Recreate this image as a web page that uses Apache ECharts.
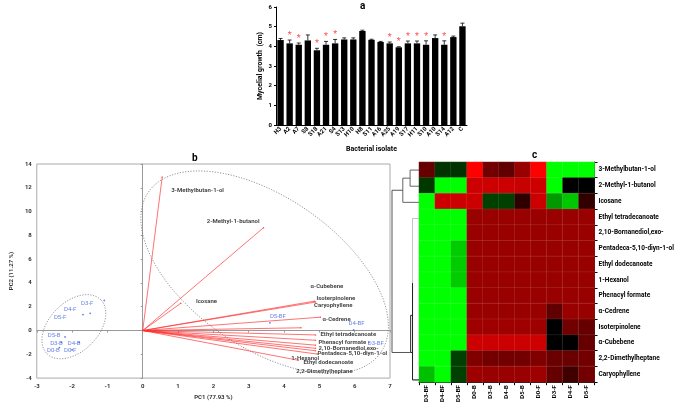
<!DOCTYPE html>
<html><head><meta charset="utf-8">
<script src="https://cdn.jsdelivr.net/npm/echarts@6/dist/echarts.min.js"></script>
<style>html,body{margin:0;padding:0;background:#fff}#c{width:677px;height:405px}</style>
</head><body><div id="c"></div>
<script>
// ---- (a) bar chart data ----
const isolates = ['H3','A2','A7','S8','S18','A21','S4','S13','H10','H8','S11','A16','A25','A19','S17','H11','S10','A10','S14','A12','C'];
const growth = [4.32,4.15,4.08,4.3,3.8,4.08,4.15,4.35,4.35,4.78,4.33,4.22,4.15,3.95,4.15,4.15,4.08,4.42,4.08,4.47,5.02];
const growthErr = [0.08,0.17,0.09,0.28,0.1,0.17,0.2,0.08,0.08,0.04,0.03,0.03,0.07,0.03,0.12,0.12,0.2,0.16,0.2,0.05,0.16];
const significant = [0,1,1,0,1,1,1,0,0,0,0,0,1,1,1,1,1,0,1,0,0];

// ---- (b) PCA biplot data ----
const samples = ['D3-F','D4-F','D5-F','D5-B','D3-B','D4-B','D0-B','D0-F','D5-BF','D4-BF','D3-BF'];
const samplePC1 = [-1.09,-1.49,-1.69,-2.2,-2.3,-1.8,-2.36,-2.0,3.6,5.97,6.4];
const samplePC2 = [2.53,1.45,1.34,-0.54,-1.0,-1.0,-1.43,-1.6,0.65,0.05,-1.0];
const variables = ['3-Methylbutan-1-ol','2-Methyl-1-butanol','Icosane','Ethyl tetradecanoate','2,10-Bornanediol,exo-','Pentadeca-5,10-diyn-1-ol','Ethyl dodecanoate','1-Hexanol','Phenacyl formate','α-Cedrene','Isoterpinolene','α-Cubebene','2,2-Dimethylheptane','Caryophyllene'];
const loadPC1 = [0.55,3.42,1.08,4.89,4.89,4.89,4.89,4.4,4.89,5.03,4.89,4.86,4.94,4.48];
const loadPC2 = [12.9,8.65,2.3,-0.37,-1.23,-1.5,-1.7,-2.5,-0.82,1.12,2.39,2.47,-1.98,0.23];
// confidence ellipses: centre, two conjugate semi-axis vectors (data units)
const ellipses = [
  [3.45,4.9,3.3,-6.7,-1.18,-5.26],
  [-1.95,0.32,0.776,2.22,0.465,-1.53]
];

// ---- (c) heatmap data ----
const treatments = ['D3-BF','D4-BF','D5-BF','D0-B','D3-B','D4-B','D5-B','D0-F','D3-F','D4-F','D5-F'];
const compounds = ['3-Methylbutan-1-ol','2-Methyl-1-butanol','Icosane','Ethyl tetradecanoate','2,10-Bornanediol,exo-','Pentadeca-5,10-diyn-1-ol','Ethyl dodecanoate','1-Hexanol','Phenacyl formate','α-Cedrene','Isoterpinolene','α-Cubebene','2,2-Dimethylheptane','Caryophyllene'];
const heat = [
  [0.4,-0.2,-0.2,1.0,0.45,0.38,0.6,1.0,-1,-1,-1],
  [-0.22,-1,-1,0.8,0.8,0.8,0.78,0.8,-1,0,0],
  [-1,0.8,0.8,0.8,-0.25,-0.25,0.18,0.8,-0.6,-0.78,0.2],
  [-1,-1,-1,0.6,0.6,0.6,0.6,0.6,0.6,0.6,0.6],
  [-1,-1,-1,0.6,0.6,0.6,0.6,0.6,0.6,0.6,0.6],
  [-1,-1,-0.8,0.6,0.6,0.6,0.6,0.6,0.6,0.6,0.6],
  [-1,-1,-0.8,0.6,0.6,0.6,0.6,0.6,0.6,0.6,0.6],
  [-1,-1,-0.8,0.6,0.6,0.6,0.6,0.6,0.6,0.6,0.6],
  [-1,-1,-1,0.6,0.6,0.6,0.6,0.6,0.6,0.6,0.6],
  [-1,-1,-1,0.6,0.6,0.6,0.6,0.6,0.38,0.6,0.6],
  [-1,-1,-1,0.62,0.62,0.62,0.62,0.62,0,0.45,0.4],
  [-1,-1,-1,0.8,0.8,0.8,0.8,0.8,0,0,0.4],
  [-1,-1,-0.25,0.5,0.45,0.45,0.45,0.5,0.42,0.42,0.45],
  [-0.75,-1,-0.25,0.62,0.6,0.6,0.6,0.62,0.4,0.25,0.45]
];
// dendrogram links: [rowPosA, rowPosB, heightA, heightB, joinHeight]
const dendroLinks = [
  [0,1,0,0,0.33],
  [0.5,2,0.33,0,0.6],
  [3,13,0,0,0.24],
  [7,13,0.24,0,0.24],
  [9,11.3,0.24,0.24,0.31],
  [1.25,11.3,0.6,0.31,1.0]
];

// ---------------- build options ----------------
const F = 'Roboto';
const labOff = [[9,13,'left'],[-4,-6,'right'],[15,-2,'left'],[5,0,'left'],[3,3,'left'],[2,5,'left'],[-12,12,'left'],[-7,-2,'left'],[3,2,'left'],[2,2,'left'],[1,-4,'left'],[-4,-15,'left'],[-21,17,'left'],[13,-22,'left']];
const sampOff = [[-17,3],[-20,-4],[-23,3],[-11,-1],[-5,1],[-5,1],[-6,3],[-2,1],[8,-6],[3,-6],[7,1]];
const linkColors = ['#555','#555','#bbb','#111','#111','#444'];

const heatData = [];
heat.forEach((row, r) => row.forEach((v, c) => heatData.push([c, r, v])));

const B = 'bold';
const option = {
  animation: false,
  textStyle: {fontFamily: F},
  title: [
    {text: 'a', left: 355, top: -4, textStyle: {fontSize: 10, fontWeight: B, fontFamily: F, color: '#000'}},
    {text: 'b', left: 187, top: 148, textStyle: {fontSize: 10, fontWeight: B, fontFamily: F, color: '#000'}},
    {text: 'c', left: 527, top: 145, textStyle: {fontSize: 10, fontWeight: B, fontFamily: F, color: '#000'}}
  ],
  grid: [
    {left: 276, top: 7, width: 191, height: 118},
    {left: 20, top: 164, width: 370, height: 217, show: true, borderColor: '#aaa', borderWidth: 1},
    {left: 419, top: 162, width: 178, height: 226},
    {left: 392, top: 162, width: 27, height: 226}
  ],
  visualMap: {show: false, seriesIndex: 6, min: -1, max: 1, inRange: {color: ['#00ff00', '#000000', '#ff0000']}},
  xAxis: [
    {gridIndex: 0, type: 'category', data: isolates, axisLine: {lineStyle: {color: '#000'}}, axisTick: {show: false},
     axisLabel: {rotate: 45, interval: 0, fontSize: 6, fontWeight: B, color: '#000', margin: 3},
     name: 'Bacterial isolate', nameLocation: 'middle', nameGap: 21, nameTextStyle: {fontSize: 7, fontWeight: B, color: '#000'}},
    {gridIndex: 1, type: 'value', min: -3, max: 7, interval: 1, axisLine: {show: false, onZero: false}, axisTick: {show: false}, splitLine: {show: false},
     axisLabel: {fontSize: 6, fontWeight: B, color: '#333', margin: 5},
     name: 'PC1 (77.93 %)', nameLocation: 'middle', nameGap: 14, nameTextStyle: {fontSize: 6, fontWeight: B, color: '#333'}},
    {gridIndex: 1, type: 'value', min: -3, max: 7, interval: 1, axisLine: {show: true, onZero: true, lineStyle: {color: '#999'}},
     axisTick: {show: true, inside: true, length: 2, lineStyle: {color: '#999'}}, axisLabel: {show: false}, splitLine: {show: false}},
    {gridIndex: 2, type: 'category', data: treatments, position: 'bottom', axisLine: {lineStyle: {color: '#000'}},
     axisTick: {show: true, length: 3, lineStyle: {color: '#000'}}, axisLabel: {rotate: 90, interval: 0, fontSize: 6, fontWeight: B, color: '#000', margin: 3}},
    {gridIndex: 3, type: 'value', min: 0, max: 1, inverse: true, show: false}
  ],
  yAxis: [
    {gridIndex: 0, type: 'value', min: 0, max: 6, interval: 1, axisLine: {show: true, lineStyle: {color: '#000'}},
     axisTick: {show: true, length: 2, lineStyle: {color: '#000'}}, splitLine: {show: false},
     axisLabel: {fontSize: 6, fontWeight: B, color: '#000', margin: 4},
     name: 'Mycelial growth  (cm)', nameLocation: 'middle', nameGap: 12, nameRotate: 90, nameTextStyle: {fontSize: 7, fontWeight: B, color: '#000'}},
    {gridIndex: 1, type: 'value', min: -4, max: 14, interval: 2, axisLine: {show: false, onZero: false}, axisTick: {show: false}, splitLine: {show: false},
     axisLabel: {fontSize: 6, fontWeight: B, color: '#333', margin: 5},
     name: 'PC2 (11.27 %)', nameLocation: 'middle', nameGap: 14, nameRotate: 90, nameTextStyle: {fontSize: 6, fontWeight: B, color: '#333'}},
    {gridIndex: 1, type: 'value', min: -4, max: 14, interval: 2, axisLine: {show: true, onZero: true, lineStyle: {color: '#999'}},
     axisTick: {show: true, inside: true, length: 2, lineStyle: {color: '#999'}}, axisLabel: {show: false}, splitLine: {show: false}},
    {gridIndex: 2, type: 'category', data: compounds, inverse: true, position: 'right', axisLine: {lineStyle: {color: '#000'}},
     axisTick: {show: true, length: 3, lineStyle: {color: '#000'}}, axisLabel: {interval: 0, fontSize: 6.5, fontWeight: B, color: '#000', margin: 4}},
    {gridIndex: 3, type: 'value', min: -0.5, max: 13.5, inverse: true, show: false}
  ],
  series: [
    {type: 'bar', xAxisIndex: 0, yAxisIndex: 0, data: growth, barWidth: '70%', itemStyle: {color: '#000'}},
    {type: 'custom', xAxisIndex: 0, yAxisIndex: 0, data: growth.map((v, i) => [i, v, growthErr[i]]),
     renderItem: function (p, api) {
       const i = api.value(0), v = api.value(1), e = api.value(2);
       const p0 = api.coord([i, v]), p1 = api.coord([i, v + e]);
       return {type: 'group', children: [
         {type: 'line', shape: {x1: p0[0], y1: p0[1], x2: p1[0], y2: p1[1]}, style: {stroke: '#000', lineWidth: 0.8}},
         {type: 'line', shape: {x1: p1[0] - 2, y1: p1[1], x2: p1[0] + 2, y2: p1[1]}, style: {stroke: '#000', lineWidth: 0.8}}
       ]};
     }},
    {type: 'scatter', xAxisIndex: 0, yAxisIndex: 0, symbolSize: 0,
     data: growth.map((v, i) => [i, v + growthErr[i]]).filter((d, i) => significant[i]),
     label: {show: true, formatter: '*', position: 'top', distance: 0, color: '#ff2020', fontSize: 9}},
    {type: 'custom', xAxisIndex: 1, yAxisIndex: 1, clip: true, data: ellipses,
     encode: {x: 0, y: 1},
     renderItem: function (p, api) {
       const cx = api.value(0), cy = api.value(1), ux = api.value(2), uy = api.value(3), vx = api.value(4), vy = api.value(5);
       const pts = [];
       for (let k = 0; k <= 120; k++) {
         const t = k / 120 * Math.PI * 2;
         pts.push(api.coord([cx + ux * Math.cos(t) + vx * Math.sin(t), cy + uy * Math.cos(t) + vy * Math.sin(t)]));
       }
       return {type: 'polyline', shape: {points: pts}, style: {stroke: '#666', lineWidth: 0.7, lineDash: [1.2, 1.5], fill: null}};
     }},
    {type: 'custom', xAxisIndex: 1, yAxisIndex: 1, data: loadPC1.map((x, i) => [x, loadPC2[i]]),
     renderItem: function (p, api) {
       const o = api.coord([0, 0]), e = api.coord([api.value(0), api.value(1)]);
       return {type: 'line', shape: {x1: o[0], y1: o[1], x2: e[0], y2: e[1]}, style: {stroke: '#ff3030', lineWidth: 0.8, opacity: 0.85}};
     }},
    {type: 'scatter', xAxisIndex: 1, yAxisIndex: 1, symbolSize: 1.5, itemStyle: {color: '#ff3030'},
     data: variables.map((n, i) => ({name: n, value: [loadPC1[i], loadPC2[i]],
       label: {show: true, formatter: n, position: 'inside', align: labOff[i][2], verticalAlign: 'middle', offset: [labOff[i][0], labOff[i][1]],
               fontSize: 6, fontWeight: B, color: '#111', fontFamily: F}}))},
    {type: 'heatmap', xAxisIndex: 3, yAxisIndex: 3, data: heatData,
     itemStyle: {borderColor: 'rgba(255,255,255,0.18)', borderWidth: 0.5}},
    {type: 'scatter', xAxisIndex: 1, yAxisIndex: 1, symbolSize: 1.8, itemStyle: {color: '#3d5fe0'},
     data: samples.map((n, i) => ({name: n, value: [samplePC1[i], samplePC2[i]],
       label: {show: true, formatter: n, position: 'inside', align: 'center', verticalAlign: 'middle', offset: sampOff[i],
               fontSize: 6, color: '#3d5fe0', fontFamily: F}}))},
    {type: 'custom', xAxisIndex: 4, yAxisIndex: 4, data: dendroLinks, encode: {x: 2, y: 0},
     renderItem: function (p, api) {
       const a = api.value(0), b = api.value(1), ha = api.value(2), hb = api.value(3), h = api.value(4);
       const pts = [api.coord([ha, a]), api.coord([h, a]), api.coord([h, b]), api.coord([hb, b])];
       return {type: 'polyline', shape: {points: pts}, style: {stroke: linkColors[p.dataIndex], lineWidth: 0.9, fill: null}};
     }}
  ]
};
const chart = echarts.init(document.getElementById('c'), null, {renderer: 'canvas'});
chart.setOption(option);
</script></body></html>
